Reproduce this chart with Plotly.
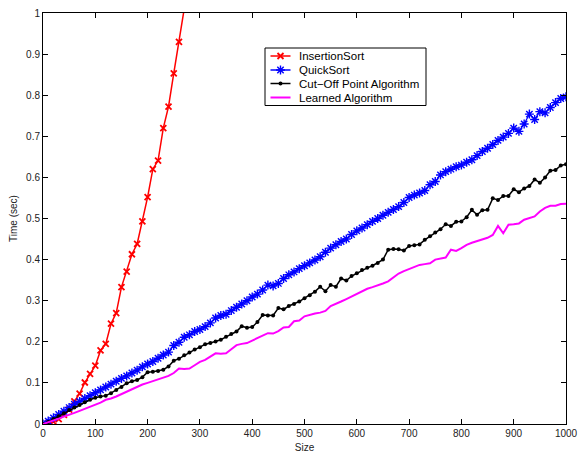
import plotly.graph_objects as go

sizes = list(range(0, 1001, 10))

insertion_x = list(range(0, 271, 10))
insertion_t = [0.000, 0.002, 0.006, 0.012, 0.022, 0.035, 0.055, 0.074, 0.101, 0.122,
               0.142, 0.179, 0.195, 0.244, 0.270, 0.333, 0.371, 0.413, 0.438, 0.493,
               0.552, 0.620, 0.641, 0.720, 0.772, 0.853, 0.930, 1.010]

quick_t = [0.000, 0.007, 0.015, 0.023, 0.031, 0.040, 0.048, 0.055, 0.062, 0.069,
           0.076, 0.083, 0.090, 0.097, 0.104, 0.111, 0.117, 0.124, 0.131, 0.139,
           0.146, 0.152, 0.160, 0.168, 0.175, 0.191, 0.199, 0.211, 0.217, 0.225,
           0.230, 0.237, 0.246, 0.258, 0.264, 0.267, 0.276, 0.284, 0.292, 0.300,
           0.309, 0.316, 0.326, 0.338, 0.336, 0.342, 0.354, 0.363, 0.370, 0.378,
           0.385, 0.392, 0.399, 0.407, 0.418, 0.428, 0.436, 0.444, 0.450, 0.461,
           0.470, 0.477, 0.485, 0.493, 0.500, 0.508, 0.515, 0.522, 0.529, 0.539,
           0.551, 0.557, 0.562, 0.568, 0.582, 0.590, 0.606, 0.614, 0.620, 0.626,
           0.630, 0.637, 0.643, 0.653, 0.663, 0.671, 0.680, 0.690, 0.698, 0.707,
           0.720, 0.712, 0.730, 0.754, 0.741, 0.760, 0.757, 0.770, 0.782, 0.792,
           0.796]

cutoff_t = [0.000, 0.005, 0.012, 0.019, 0.026, 0.034, 0.040, 0.046, 0.053, 0.059,
            0.064, 0.067, 0.069, 0.075, 0.083, 0.090, 0.099, 0.104, 0.107, 0.114,
            0.126, 0.127, 0.129, 0.132, 0.140, 0.154, 0.159, 0.167, 0.174, 0.181,
            0.187, 0.194, 0.197, 0.201, 0.205, 0.212, 0.219, 0.225, 0.238, 0.234,
            0.236, 0.248, 0.265, 0.264, 0.264, 0.282, 0.279, 0.287, 0.292, 0.298,
            0.306, 0.313, 0.322, 0.334, 0.323, 0.338, 0.334, 0.354, 0.349, 0.360,
            0.367, 0.375, 0.380, 0.385, 0.392, 0.400, 0.424, 0.426, 0.425, 0.422,
            0.433, 0.435, 0.437, 0.448, 0.457, 0.466, 0.474, 0.486, 0.482, 0.492,
            0.493, 0.503, 0.521, 0.509, 0.520, 0.521, 0.549, 0.545, 0.555, 0.555,
            0.571, 0.564, 0.573, 0.579, 0.595, 0.587, 0.600, 0.616, 0.618, 0.629,
            0.632]

learned_t = [0.000, 0.004, 0.008, 0.013, 0.018, 0.022, 0.027, 0.032, 0.037, 0.042,
             0.047, 0.052, 0.059, 0.062, 0.067, 0.073, 0.079, 0.085, 0.091, 0.096,
             0.100, 0.104, 0.108, 0.112, 0.117, 0.124, 0.135, 0.134, 0.135, 0.143,
             0.151, 0.156, 0.164, 0.172, 0.171, 0.172, 0.182, 0.192, 0.195, 0.197,
             0.203, 0.209, 0.215, 0.221, 0.220, 0.226, 0.235, 0.236, 0.250, 0.252,
             0.262, 0.266, 0.269, 0.271, 0.275, 0.287, 0.292, 0.298, 0.304, 0.310,
             0.318, 0.324, 0.329, 0.333, 0.337, 0.342, 0.347, 0.356, 0.366, 0.372,
             0.377, 0.383, 0.387, 0.389, 0.391, 0.400, 0.402, 0.405, 0.424, 0.421,
             0.428, 0.436, 0.441, 0.445, 0.449, 0.453, 0.460, 0.482, 0.464, 0.485,
             0.486, 0.488, 0.497, 0.501, 0.505, 0.517, 0.526, 0.531, 0.531, 0.535,
             0.536]

x_ticks = list(range(0, 1001, 100))
y_ticks = [round(0.1 * i, 1) for i in range(11)]
y_tick_text = ["0", "0.1", "0.2", "0.3", "0.4", "0.5", "0.6", "0.7", "0.8", "0.9", "1"]

series_names = ["InsertionSort", "QuickSort", "Cut\u2212Off Point Algorithm", "Learned Algorithm"]
series_colors = ["#ff0000", "#0000ff", "#000000", "#ff00ff"]

FONT = "Liberation Sans, Arial, Helvetica, sans-serif"

W, H = 579, 456
ML, MR, MT, MB = 43, 13, 13, 32

red_marker = dict(symbol="x-thin", size=6, line=dict(color=series_colors[0], width=1.8))
blue_marker = dict(symbol="asterisk", size=7.5, line=dict(color=series_colors[1], width=1.4))
black_marker = dict(symbol="circle", size=4, color=series_colors[2])

fig = go.Figure()
fig.add_trace(go.Scatter(
    x=insertion_x, y=insertion_t, name=series_names[0], mode="lines+markers",
    line=dict(color=series_colors[0], width=1.5), marker=red_marker,
))
fig.add_trace(go.Scatter(
    x=sizes, y=quick_t, name=series_names[1], mode="lines+markers",
    line=dict(color=series_colors[1], width=1.2), marker=blue_marker,
))
fig.add_trace(go.Scatter(
    x=sizes, y=cutoff_t, name=series_names[2], mode="lines+markers",
    line=dict(color=series_colors[2], width=1.5), marker=black_marker,
))
fig.add_trace(go.Scatter(
    x=sizes, y=learned_t, name=series_names[3], mode="lines",
    line=dict(color=series_colors[3], width=2),
))

# ---- compact MATLAB-style legend drawn on an overlay axis in pixel units ----
leg_left, leg_right, leg_top, leg_bottom = 265, 426, 48, 105.5
row_y = [56, 70, 83.5, 97.5]
samp_x0, samp_x1, text_x = 270.5, 290.5, 297

shapes = [dict(type="rect", xref="x2", yref="y2", x0=leg_left, x1=leg_right,
               y0=leg_top, y1=leg_bottom, line=dict(color="black", width=1),
               fillcolor="white", layer="below")]
annotations = []
for i, (nm, col) in enumerate(zip(series_names, series_colors)):
    shapes.append(dict(type="line", xref="x2", yref="y2", x0=samp_x0, x1=samp_x1,
                       y0=row_y[i], y1=row_y[i],
                       line=dict(color=col, width=2 if i == 3 else 1.5), layer="below"))
    annotations.append(dict(xref="x2", yref="y2", x=text_x, y=row_y[i], text=nm,
                            showarrow=False, xanchor="left", yanchor="middle",
                            font=dict(family=FONT, size=11.5, color="black")))

mid = (samp_x0 + samp_x1) / 2
for i, mk in enumerate([red_marker, blue_marker, black_marker]):
    fig.add_trace(go.Scatter(x=[mid], y=[row_y[i]], xaxis="x2", yaxis="y2",
                             mode="markers", marker=mk, showlegend=False,
                             hoverinfo="skip"))

axis_common = dict(
    showgrid=False, zeroline=False, showline=True, linecolor="black", linewidth=1,
    mirror="ticks", ticks="inside", ticklen=5, tickcolor="black", tickwidth=1,
    tickfont=dict(family=FONT, size=10, color="#222222"), automargin=False,
)

fig.update_layout(
    width=W, height=H,
    margin=dict(l=ML, r=MR, t=MT, b=MB),
    paper_bgcolor="white", plot_bgcolor="white",
    font=dict(family=FONT, size=10, color="#222222"),
    showlegend=False,
    shapes=shapes, annotations=annotations,
    xaxis=dict(
        range=[0, 1000], tickvals=x_ticks, ticktext=[str(v) for v in x_ticks],
        title=dict(text="Size", font=dict(family=FONT, size=10, color="#222222"), standoff=5),
        **axis_common,
    ),
    yaxis=dict(
        range=[0, 1], tickvals=y_ticks, ticktext=y_tick_text,
        title=dict(text="Time (sec)", font=dict(family=FONT, size=10, color="#222222"), standoff=6),
        **axis_common,
    ),
    xaxis2=dict(overlaying="x", range=[ML, W - MR], visible=False, fixedrange=True),
    yaxis2=dict(overlaying="y", range=[H - MB, MT], visible=False, fixedrange=True),
)

fig.write_html("out.html", config={"displayModeBar": False},
               post_script="document.body.style.margin='0px';")
